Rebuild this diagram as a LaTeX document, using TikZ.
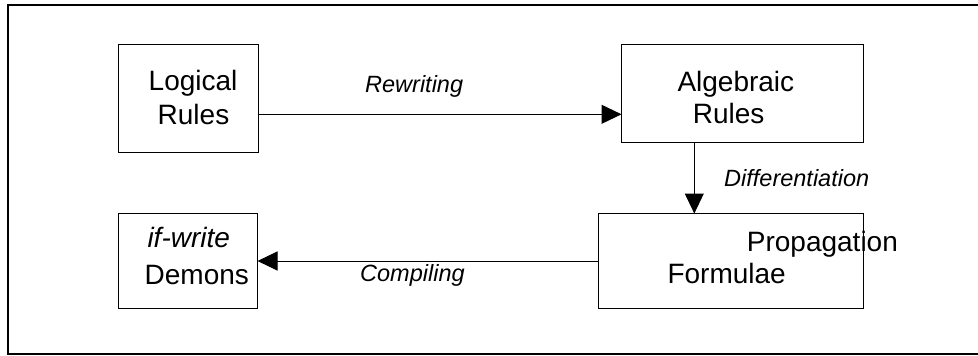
\documentclass[tikz,border=0pt]{standalone}
\usepackage{fontspec}
\setmainfont{Liberation Sans}
\usetikzlibrary{arrows.meta}
\begin{document}
\begin{tikzpicture}[x=1pt,y=-1pt,
  box/.style={draw=black,line width=1pt,inner sep=0pt,outer sep=0pt},
  txt/.style={anchor=base west,inner sep=0pt,font=\fontsize{28}{30}\selectfont},
  lbl/.style={anchor=base west,inner sep=0pt,font=\fontsize{23.5}{27}\selectfont\itshape},
  arr/.style={line width=1pt,-{Triangle[length=20pt,width=19pt]}}]
\useasboundingbox (0,0) rectangle (978,356);
% outer frame (right side not visible)
\draw[line width=1.3pt] (980,5) -- (8,5) -- (8,354) -- (980,354);
% boxes
\node[box,minimum width=140pt,minimum height=108pt] (lr) at (188,98) {};
\node[box,minimum width=241.5pt,minimum height=98pt] (ar) at (742.25,93) {};
\node[box,minimum width=264.5pt,minimum height=94.5pt] (pf) at (730.75,260.75) {};
\node[box,minimum width=139pt,minimum height=94.5pt] (dm) at (188,260.75) {};
% texts
\node[txt] (t1) at (148.5,90.5) {Logical};
\node[txt] (t2) at (157.5,124) {Rules};
\node[txt] (t3) at (677.3,91.5) {Algebraic};
\node[txt] (t4) at (692.7,123.3) {Rules};
\node[txt] (t5) at (746.7,251.7) {Propagation};
\node[txt] (t6) at (667.3,283.3) {Formulae};
\node[txt] (t7) at (147.3,247) {\itshape if-write};
\node[txt] (t8) at (144.5,284) {Demons};
% labels
\node[lbl] (l1) at (365,92.3) {Rewriting};
\node[lbl] (l2) at (724,186.5) {Differentiation};
\node[lbl] (l3) at (360,281.7) {Compiling};
% connectors
\draw[arr] (lr.east |- 0,114.3) -- (ar.west |- 0,114.3);
\draw[arr] (ar.south -| 694.3,0) -- (pf.north -| 694.3,0);
\draw[arr] (pf.west |- 0,261) -- (dm.east |- 0,261);
\end{tikzpicture}
\end{document}
